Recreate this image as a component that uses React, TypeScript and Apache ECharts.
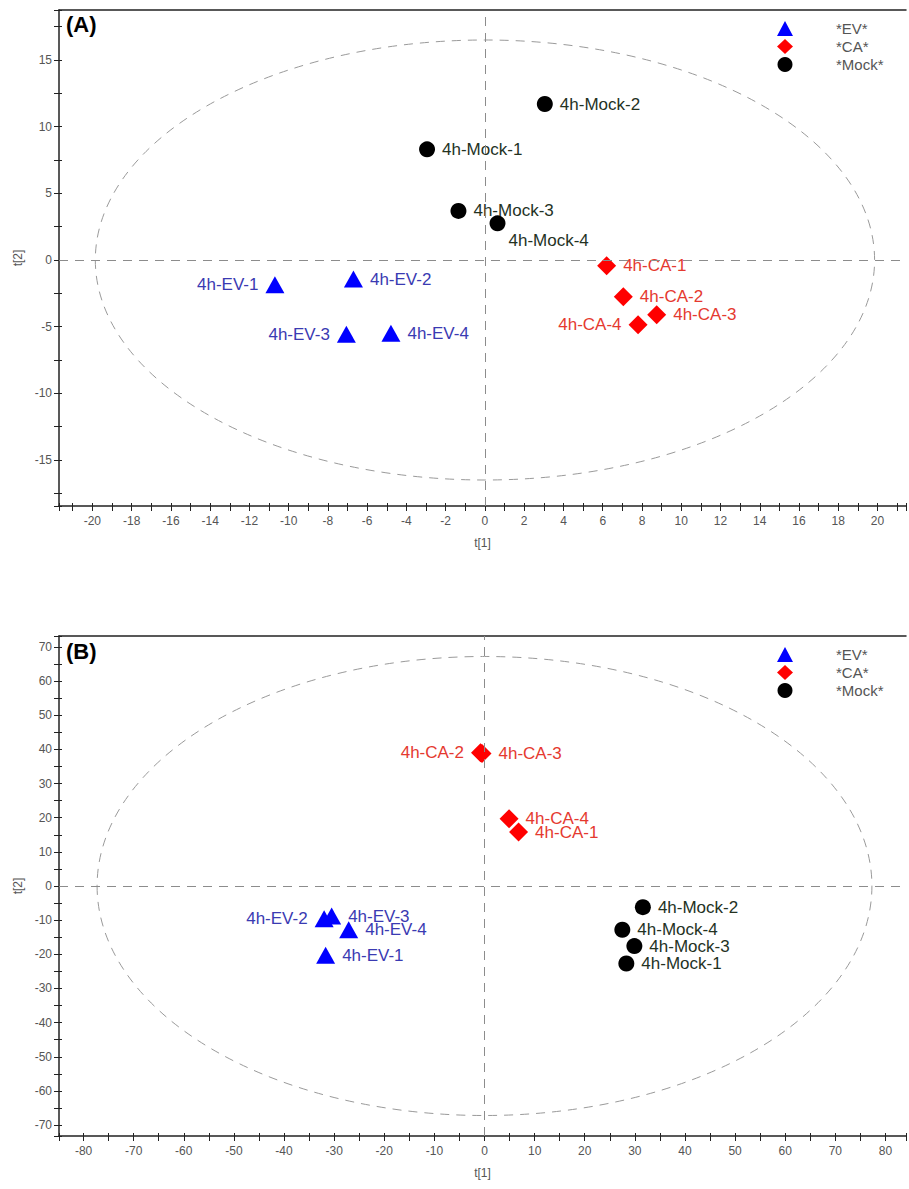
import React, { useEffect, useRef } from 'react';
import * as echarts from 'echarts';

// ---------- Panel (A) data: [label, t[1], t[2]] ----------
const A_EV: [string, number, number][] = [
  ['4h-EV-1', -10.7, -1.85],
  ['4h-EV-2', -6.7, -1.43],
  ['4h-EV-3', -7.06, -5.56],
  ['4h-EV-4', -4.79, -5.49],
];
const A_CA: [string, number, number][] = [
  ['4h-CA-1', 6.2, -0.43],
  ['4h-CA-2', 7.05, -2.76],
  ['4h-CA-3', 8.75, -4.1],
  ['4h-CA-4', 7.8, -4.86],
];
const A_MOCK: [string, number, number][] = [
  ['4h-Mock-1', -2.95, 8.3],
  ['4h-Mock-2', 3.05, 11.7],
  ['4h-Mock-3', -1.35, 3.68],
  ['4h-Mock-4', 0.64, 2.75],
];
const A_ELLIPSE: [number, number] = [19.85, 16.5];

// ---------- Panel (B) data ----------
const B_EV: [string, number, number][] = [
  ['4h-EV-1', -31.7, -20.3],
  ['4h-EV-2', -32.0, -9.6],
  ['4h-EV-3', -30.5, -8.8],
  ['4h-EV-4', -27.1, -12.8],
];
const B_CA: [string, number, number][] = [
  ['4h-CA-1', 6.8, 15.8],
  ['4h-CA-2', -0.8, 39.0],
  ['4h-CA-3', -0.5, 38.8],
  ['4h-CA-4', 4.9, 19.7],
];
const B_MOCK: [string, number, number][] = [
  ['4h-Mock-1', 28.3, -22.7],
  ['4h-Mock-2', 31.6, -6.2],
  ['4h-Mock-3', 29.9, -17.6],
  ['4h-Mock-4', 27.5, -12.8],
];
const B_ELLIPSE: [number, number] = [77.3, 67.2];

// label placement (style only)
const A_EV_POS = ['left', 'right', 'left', 'right'];
const A_CA_POS = ['right', 'right', 'right', 'left'];
const A_MOCK_POS = ['right', 'right', 'right', 'below'];
const B_EV_POS = ['right', 'left', 'right', 'right'];
const B_CA_POS = ['right', 'left', 'right', 'right'];
const B_MOCK_POS = ['right', 'right', 'right', 'right'];

const GROUPS = ['*EV*', '*CA*', '*Mock*'];
const MARKER_COLORS = ['#0000ff', '#ff0000', '#000000'];
const LABEL_COLORS = ['#3a3ab2', '#e5392f', '#24321f'];
const SYMBOLS = ['triangle', 'diamond', 'circle'];
const SYMBOL_SIZES: any[] = [[19, 17], [19, 19], 16];

const FONT = 'Liberation Sans, Arial, sans-serif';

function toData(rows: [string, number, number][], pos: string[]) {
  return rows.map((r, i) => {
    const p = pos[i];
    const label: any =
      p === 'below'
        ? { position: 'right', offset: [-4, 17] }
        : { position: p };
    return { name: r[0], value: [r[1], r[2]], label };
  });
}

function ellipseSeries(xi: number, yi: number, ab: [number, number]) {
  return {
    type: 'custom',
    xAxisIndex: xi,
    yAxisIndex: yi,
    silent: true,
    z: 1,
    data: [ab],
    renderItem: (_p: any, api: any) => {
      const c = api.coord([0, 0]);
      const s = api.size([api.value(0), api.value(1)]);
      const rx = s[0];
      const ry = s[1];
      const d =
        `M ${c[0] - rx} ${c[1]} A ${rx} ${ry} 0 1 0 ${c[0] + rx} ${c[1]} ` +
        `A ${rx} ${ry} 0 1 0 ${c[0] - rx} ${c[1]} Z`;
      return {
        type: 'path',
        shape: { pathData: d },
        style: { fill: 'none', stroke: '#9a9a9a', lineWidth: 1, lineDash: [9, 7] },
      };
    },
  };
}

function groupSeries(g: number, xi: number, yi: number, rows: [string, number, number][], pos: string[], withZeroLines: boolean) {
  const s: any = {
    name: GROUPS[g],
    type: 'scatter',
    xAxisIndex: xi,
    yAxisIndex: yi,
    symbol: SYMBOLS[g],
    symbolSize: SYMBOL_SIZES[g],
    itemStyle: { color: MARKER_COLORS[g], opacity: 1 },
    z: 3,
    label: {
      show: true,
      formatter: '{b}',
      color: LABEL_COLORS[g],
      fontSize: 17,
      fontFamily: FONT,
      distance: 7,
    },
    emphasis: { disabled: true },
    data: toData(rows, pos),
  };
  if (withZeroLines) {
    s.markLine = {
      silent: true,
      symbol: 'none',
      label: { show: false },
      lineStyle: { color: '#8c8c8c', width: 1, type: [9, 7] },
      data: [{ xAxis: 0 }, { yAxis: 0 }],
    };
  }
  return s;
}

function valueAxis(opts: any) {
  const { gridIndex, min, max, step, labelStep, position, name, nameGap, isY, inner } = opts;
  return {
    type: 'value',
    gridIndex,
    position,
    min,
    max,
    minInterval: step,
    maxInterval: step,
    splitNumber: Math.round((max - min) / step),
    name: inner ? '' : name,
    nameLocation: 'middle',
    nameGap,
    nameTextStyle: { fontSize: 12, color: '#555', fontFamily: FONT },
    axisLine: { show: !inner, onZero: false, lineStyle: { color: '#222', width: 1.5 } },
    axisTick: { show: true, inside: !!inner, length: inner ? 3 : 5, lineStyle: { color: '#222', width: 1 } },
    splitLine: { show: false },
    axisLabel: {
      show: !inner,
      margin: isY ? 7 : 9,
      fontSize: 12,
      color: '#555',
      fontFamily: FONT,
      formatter: (v: number) => {
        const r = v / labelStep;
        return Math.abs(r - Math.round(r)) < 1e-6 ? String(Math.round(v)) : '';
      },
    },
  };
}

function topBorder(gridIndex: number, min: number, max: number) {
  return {
    type: 'value',
    gridIndex,
    position: 'top',
    min,
    max,
    axisLine: { show: true, onZero: false, lineStyle: { color: '#222', width: 1.5 } },
    axisTick: { show: false },
    axisLabel: { show: false },
    splitLine: { show: false },
  };
}

function legend(top: number) {
  return {
    orient: 'vertical',
    left: 777,
    top,
    padding: 0,
    itemWidth: 16,
    itemHeight: 15,
    itemGap: 3,
    selectedMode: false,
    textStyle: { fontSize: 15, color: '#555', fontFamily: FONT, padding: [0, 0, 0, 38] },
    data: GROUPS.map((n, i) => ({ name: n, icon: SYMBOLS[i] })),
  };
}

export default function App() {
  const ref = useRef<HTMLDivElement>(null);
  useEffect(() => {
    document.body.style.margin = '0';
    if (!ref.current) return;
    const chart = echarts.init(ref.current, null, { renderer: 'svg' });
    const AX = [-21.7, 21.45];
    const AY = [-18.45, 18.75];
    const BX = [-84.9, 84.1];
    const BY = [-73.2, 73.2];
    const option: any = {
      animation: false,
      backgroundColor: '#ffffff',
      grid: [
        { left: 59, top: 10, width: 850, height: 496 },
        { left: 59, top: 636, width: 850, height: 500 },
      ],
      xAxis: [
        valueAxis({ gridIndex: 0, min: AX[0], max: AX[1], step: 1, labelStep: 2, position: 'bottom', name: 't[1]', nameGap: 31 }),
        valueAxis({ gridIndex: 1, min: BX[0], max: BX[1], step: 5, labelStep: 10, position: 'bottom', name: 't[1]', nameGap: 31 }),
        topBorder(0, AX[0], AX[1]),
        topBorder(1, BX[0], BX[1]),
        valueAxis({ gridIndex: 0, min: AX[0], max: AX[1], step: 1, labelStep: 2, position: 'bottom', inner: true }),
        valueAxis({ gridIndex: 1, min: BX[0], max: BX[1], step: 5, labelStep: 10, position: 'bottom', inner: true }),
      ],
      yAxis: [
        valueAxis({ gridIndex: 0, min: AY[0], max: AY[1], step: 2.5, labelStep: 5, position: 'left', name: 't[2]', nameGap: 21, isY: true }),
        valueAxis({ gridIndex: 1, min: BY[0], max: BY[1], step: 5, labelStep: 10, position: 'left', name: 't[2]', nameGap: 21, isY: true }),
        valueAxis({ gridIndex: 0, min: AY[0], max: AY[1], step: 2.5, labelStep: 5, position: 'left', isY: true, inner: true }),
        valueAxis({ gridIndex: 1, min: BY[0], max: BY[1], step: 5, labelStep: 10, position: 'left', isY: true, inner: true }),
      ],
      legend: [legend(21), legend(647)],
      graphic: [
        { type: 'text', left: 66, top: 13, style: { text: '(A)', fontSize: 22, fontWeight: 'bold', fontFamily: FONT, fill: '#000' } },
        { type: 'text', left: 66, top: 640, style: { text: '(B)', fontSize: 22, fontWeight: 'bold', fontFamily: FONT, fill: '#000' } },
      ],
      series: [
        ellipseSeries(0, 0, A_ELLIPSE),
        groupSeries(0, 0, 0, A_EV, A_EV_POS, true),
        groupSeries(1, 0, 0, A_CA, A_CA_POS, false),
        groupSeries(2, 0, 0, A_MOCK, A_MOCK_POS, false),
        ellipseSeries(1, 1, B_ELLIPSE),
        groupSeries(0, 1, 1, B_EV, B_EV_POS, true),
        groupSeries(1, 1, 1, B_CA, B_CA_POS, false),
        groupSeries(2, 1, 1, B_MOCK, B_MOCK_POS, false),
      ],
    };
    chart.setOption(option);
    return () => chart.dispose();
  }, []);
  return <div ref={ref} style={{ width: 909, height: 1189 }} />;
}
